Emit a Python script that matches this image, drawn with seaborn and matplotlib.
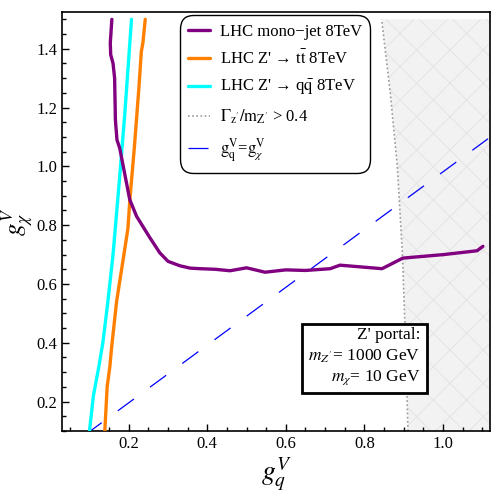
import pandas as pd
import seaborn as sns
import matplotlib.pyplot as plt
from matplotlib.ticker import MultipleLocator

# LHC mono-jet 8TeV limit
mono_gq = [0.157, 0.153, 0.154, 0.160, 0.164, 0.166, 0.170, 0.177, 0.2025, 0.220, 0.254, 0.279, 0.300, 0.330,
           0.356, 0.381, 0.420, 0.458, 0.500, 0.547, 0.600, 0.650, 0.713, 0.738, 0.845, 0.898, 1.002, 1.087, 1.102]
mono_gchi = [1.50, 1.42, 1.38, 1.35, 1.30, 1.158, 1.09, 1.062, 0.887, 0.83, 0.757, 0.706, 0.677, 0.662,
             0.654, 0.652, 0.650, 0.645, 0.655, 0.640, 0.648, 0.646, 0.652, 0.664, 0.652, 0.688, 0.700, 0.713, 0.728]

# LHC Z' -> tt 8TeV
tt_gq = [0.139, 0.145, 0.152, 0.156, 0.169, 0.190, 0.198, 0.203, 0.214, 0.226, 0.232, 0.236, 0.242]
tt_gchi = [0.10, 0.25, 0.32, 0.38, 0.54, 0.72, 0.79, 0.89, 1.06, 1.27, 1.39, 1.42, 1.50]

# LHC Z' -> qq 8TeV
qq_gq = [0.100, 0.110, 0.124, 0.134, 0.146, 0.160, 0.176, 0.190, 0.207]
qq_gchi = [0.10, 0.22, 0.32, 0.40, 0.53, 0.70, 0.95, 1.18, 1.50]

# width boundary Gamma/m > 0.4
width_gq = [0.911, 0.905, 0.897, 0.884, 0.866, 0.844]
width_gchi = [0.10, 0.40, 0.70, 1.00, 1.25, 1.50]

# g_q = g_chi line
eq_gq = [0.09, 1.115]
eq_gchi = [0.088, 1.094]

sns.set_style("ticks")
plt.rcParams["font.family"] = ["Liberation Serif", "DejaVu Serif"]
plt.rcParams["mathtext.fontset"] = "stix"
plt.rcParams["hatch.linewidth"] = 0.5
plt.rcParams["xtick.color"] = "black"
plt.rcParams["ytick.color"] = "black"
plt.rcParams["axes.labelcolor"] = "black"
plt.rcParams["text.color"] = "black"

fig = plt.figure(figsize=(5, 5), dpi=100)
ax = fig.add_axes([0.124, 0.138, 0.856, 0.838])

# excluded region (large width)
ax.fill_betweenx(width_gchi, width_gq, 1.2, facecolor="#f2f2f2", edgecolor="#e0e0e0",
                 linewidth=0, hatch="x", zorder=0)

def curve(x, y, **kw):
    df = pd.DataFrame({"gq": x, "gchi": y})
    sns.lineplot(data=df, x="gq", y="gchi", sort=False, estimator=None, ax=ax, **kw)

curve(mono_gq, mono_gchi, color="#800080", lw=2.4, label="LHC mono\u2212jet 8TeV", zorder=4)
curve(tt_gq, tt_gchi, color="#ff8000", lw=2.4, label="LHC Z' \u2192 t$\\bar{\\mathrm{t}}$ 8TeV", zorder=3)
curve(qq_gq, qq_gchi, color="#00ffff", lw=2.4, label="LHC Z' \u2192 q$\\bar{\\mathrm{q}}$ 8TeV", zorder=3)
curve(width_gq, width_gchi, color="#999999", lw=1.2, linestyle=(0, (1, 1.5)),
      label="$\\Gamma_{\\mathrm{z'}}/\\mathrm{m_{Z'}}$ > 0.4", zorder=2)
curve(eq_gq, eq_gchi, color="#0000ff", lw=0.9, linestyle=(0, (16, 16)),
      label="$\\mathrm{g_q^V}$=$\\mathrm{g}_\\chi^\\mathrm{V}$", zorder=2)

ax.set_xlim(0.03, 1.12)
ax.set_ylim(0.10, 1.525)
ax.xaxis.set_major_locator(MultipleLocator(0.2))
ax.xaxis.set_minor_locator(MultipleLocator(0.05))
ax.yaxis.set_major_locator(MultipleLocator(0.2))
ax.yaxis.set_minor_locator(MultipleLocator(0.05))
ax.tick_params(which="both", direction="in", top=False, right=False, labelsize=12, width=1)
ax.tick_params(which="major", length=5)
ax.tick_params(which="minor", length=3)
for s in ax.spines.values():
    s.set_linewidth(1.2)
    s.set_color("black")

ax.set_xlabel("$g_q^V$", fontsize=20, labelpad=2)
ax.set_ylabel("$g_\\chi^V$", fontsize=18, labelpad=0)

leg = ax.legend(loc="upper left", bbox_to_anchor=(0.256, 1.012), fontsize=12, frameon=True,
                fancybox=True, handlelength=1.3, handletextpad=0.6, labelspacing=0.62,
                borderpad=0.5)
leg.get_frame().set_edgecolor("black")
leg.get_frame().set_linewidth(1.0)
leg.get_frame().set_alpha(1)
leg.get_frame().set_boxstyle("round,pad=0,rounding_size=0.8")

ax.text(0.838, 0.105, "Z' portal:\n$m_{Z'}$= 1000 GeV\n$m_\\chi$= 10 GeV", transform=ax.transAxes,
        ha="right", va="bottom", multialignment="right", fontsize=12.5, linespacing=1.3,
        bbox=dict(boxstyle="square,pad=0.35", facecolor="white", edgecolor="black", linewidth=2),
        zorder=5)

plt.savefig("out.png", dpi=100)
